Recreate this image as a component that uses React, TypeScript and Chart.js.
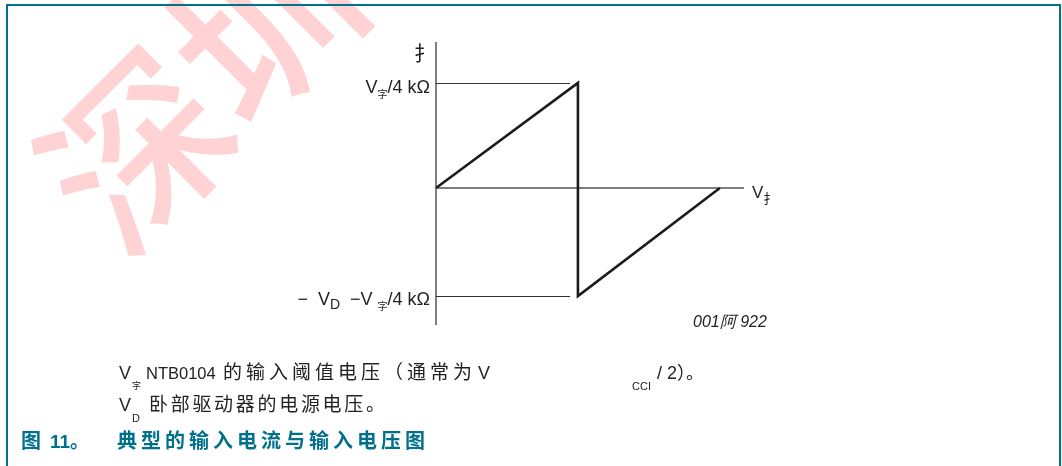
import React, { useEffect, useRef } from "react";
import { Chart, registerables } from "chart.js";

Chart.register(...registerables);

// Input current vs. input voltage: rises to the threshold, drops, then returns to zero.
const inputVoltage = [0, 1, 1, 2];
const inputCurrent = [0, 1, -1.03, 0];
const voltageAxisMax = 2.17;
const currentAxisMax = 1.39;
const currentAxisMin = -1.305;

// Reference levels marked on the current axis.
const levelValues = [1, -1.03];
const levelLineEnd = 0.945;

type Seg = { text: string; sub?: boolean; cjk?: boolean; size?: number };
const levelLabels: Seg[][] = [
  [{ text: "V" }, { text: "字", sub: true, cjk: true }, { text: "/4 kΩ" }],
  [
    { text: "−  V" },
    { text: "D", sub: true },
    { text: "  −V " },
    { text: "字", sub: true, cjk: true },
    { text: "/4 kΩ" },
  ],
];
const levelBaselineOffsets = [10, 9];

const currentAxisTitle = "扌";
const voltageAxisTitle: Seg[] = [{ text: "V" }, { text: "扌", sub: true, cjk: true, size: 13 }];
const figureCode = "001阿 922";

const LATIN = '"Liberation Sans", Arial, sans-serif';
const CJK = '"Noto Sans CJK SC", "Liberation Sans", sans-serif';
const MIXED = '"Liberation Sans", "Noto Sans CJK SC", sans-serif';
const INK = "#222222";
const TEAL = "#00718a";

function segFont(s: Seg, size: number) {
  if (s.sub) return s.cjk ? `${s.size ?? 10}px ${CJK}` : `${Math.round(size * 0.8)}px ${LATIN}`;
  return `${size}px ${LATIN}`;
}

function drawSegs(ctx: CanvasRenderingContext2D, segs: Seg[], x: number, baseline: number, size: number, alignRight: boolean) {
  let total = 0;
  const widths = segs.map((s) => {
    ctx.font = segFont(s, size);
    const w = ctx.measureText(s.text).width;
    total += w;
    return w;
  });
  let cx = alignRight ? x - total : x;
  segs.forEach((s, i) => {
    ctx.font = segFont(s, size);
    const dy = s.sub ? (s.cjk ? 5 : 4) : 0;
    ctx.fillText(s.text, cx, baseline + dy);
    cx += widths[i];
  });
}

const axesPlugin = {
  id: "axesAndLabels",
  beforeDatasetsDraw(chart: any) {
    const { ctx, chartArea, scales } = chart;
    const xs = scales.x;
    const ys = scales.y;
    const x0 = xs.getPixelForValue(0);
    const y0 = ys.getPixelForValue(0);
    ctx.save();
    // Axes
    ctx.strokeStyle = "#555555";
    ctx.lineWidth = 1.5;
    ctx.beginPath();
    ctx.moveTo(x0, chartArea.top);
    ctx.lineTo(x0, chartArea.bottom);
    ctx.moveTo(x0, y0);
    ctx.lineTo(xs.getPixelForValue(voltageAxisMax), y0);
    ctx.stroke();
    // Level lines
    ctx.strokeStyle = "#333333";
    ctx.lineWidth = 1;
    levelValues.forEach((v) => {
      const y = Math.round(ys.getPixelForValue(v)) + 0.5;
      ctx.beginPath();
      ctx.moveTo(x0, y);
      ctx.lineTo(xs.getPixelForValue(levelLineEnd), y);
      ctx.stroke();
    });
    // Level labels
    ctx.fillStyle = INK;
    ctx.textBaseline = "alphabetic";
    ctx.textAlign = "left";
    levelValues.forEach((v, i) => {
      drawSegs(ctx, levelLabels[i], x0 - 6, ys.getPixelForValue(v) + levelBaselineOffsets[i], 18, true);
    });
    // Axis titles
    ctx.font = `20px ${CJK}`;
    ctx.textAlign = "right";
    ctx.fillText(currentAxisTitle, x0 - 2, chartArea.top + 19);
    ctx.textAlign = "left";
    drawSegs(ctx, voltageAxisTitle, xs.getPixelForValue(voltageAxisMax) + 8, y0 + 10, 17, false);
    // Figure code
    ctx.font = `italic 16px ${LATIN}`;
    ctx.fillText(figureCode, 693, 327);
    ctx.restore();
  },
};

function Text(props: {
  x: number;
  baseline: number;
  size: number;
  children: React.ReactNode;
  spacing?: number;
  bold?: boolean;
  color?: string;
}) {
  const { x, baseline, size, spacing = 0, bold, color = INK } = props;
  return (
    <div
      style={{
        position: "absolute",
        left: x,
        top: baseline - 0.8465 * size,
        fontSize: size,
        lineHeight: `${size}px`,
        fontFamily: MIXED,
        letterSpacing: spacing,
        fontWeight: bold ? 700 : 400,
        color,
        whiteSpace: "pre",
      }}
    >
      {props.children}
    </div>
  );
}

export default function App() {
  const canvasRef = useRef<HTMLCanvasElement | null>(null);

  useEffect(() => {
    const canvas = canvasRef.current;
    if (!canvas) return;
    const chart = new Chart(canvas, {
      type: "scatter",
      data: {
        datasets: [
          {
            data: inputVoltage.map((x, i) => ({ x, y: inputCurrent[i] })),
            showLine: true,
            borderColor: "#1c1c1c",
            borderWidth: 2.6,
            borderJoinStyle: "miter",
            pointRadius: 0,
            tension: 0,
            clip: false as any,
          },
        ],
      },
      options: {
        animation: false,
        responsive: false,
        maintainAspectRatio: false,
        layout: { padding: { left: 436, right: 318, top: 42, bottom: 141 } },
        scales: {
          x: { type: "linear", min: 0, max: voltageAxisMax, display: false },
          y: { type: "linear", min: currentAxisMin, max: currentAxisMax, display: false },
        },
        plugins: { legend: { display: false }, tooltip: { enabled: false } },
      },
      plugins: [axesPlugin],
    });
    return () => chart.destroy();
  }, []);

  return (
    <div
      style={{
        position: "absolute",
        left: 0,
        top: 0,
        width: 1062,
        height: 466,
        overflow: "hidden",
        background: "#ffffff",
      }}
    >
      {/* Watermark */}
      <div
        style={{
          position: "absolute",
          left: 66,
          top: 117,
          height: 180,
          fontSize: 180,
          lineHeight: "180px",
          fontFamily: CJK,
          fontWeight: 500,
          color: "#ffd3d3",
          whiteSpace: "nowrap",
          transformOrigin: "0 50%",
          transform: "rotate(-45deg)",
        }}
      >
        深圳市
      </div>

      <canvas ref={canvasRef} width={1062} height={466} style={{ position: "absolute", left: 0, top: 0 }} />

      {/* Frame */}
      <div
        style={{
          position: "absolute",
          left: 6,
          top: 4,
          width: 1055,
          height: 480,
          boxSizing: "border-box",
          borderTop: `2px solid ${TEAL}`,
          borderLeft: `2px solid ${TEAL}`,
          borderRight: `2px solid ${TEAL}`,
        }}
      />

      {/* Notes */}
      <Text x={119} baseline={379} size={18}>V</Text>
      <Text x={132} baseline={390} size={9}>字</Text>
      <Text x={146} baseline={379} size={16.5}>NTB0104</Text>
      <Text x={223} baseline={379} size={19} spacing={4}>的输入阈值电压（通常为</Text>
      <Text x={478} baseline={379} size={18}>V</Text>
      <Text x={632} baseline={390} size={11}>CCI</Text>
      <Text x={657} baseline={379} size={18}>/ 2）。</Text>

      <Text x={119} baseline={411} size={18}>V</Text>
      <Text x={132} baseline={422} size={11}>D</Text>
      <Text x={149} baseline={411} size={19} spacing={2.7}>卧部驱动器的电源电压。</Text>

      {/* Caption */}
      <Text x={21} baseline={448} size={20} bold color={TEAL}>图</Text>
      <Text x={50} baseline={448} size={19} bold color={TEAL}>11。</Text>
      <Text x={117} baseline={448} size={20} bold color={TEAL} spacing={4}>典型的输入电流与输入电压图</Text>
    </div>
  );
}
